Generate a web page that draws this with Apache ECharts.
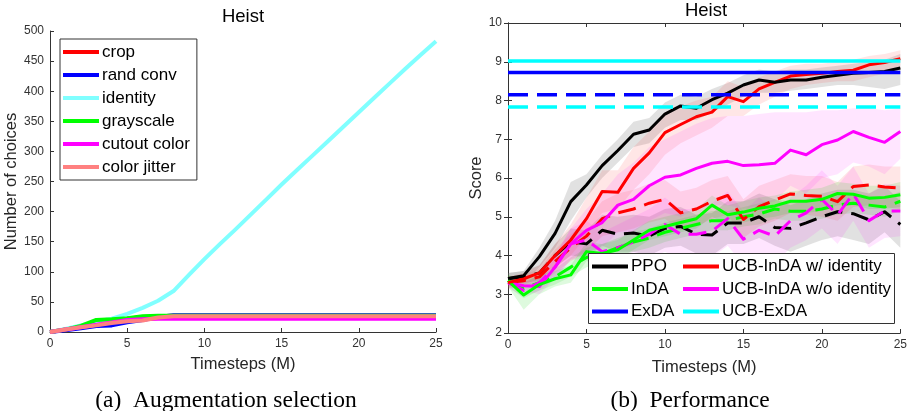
<!DOCTYPE html>
<html>
<head>
<meta charset="utf-8">
<script src="https://cdn.jsdelivr.net/npm/echarts@6/dist/echarts.min.js"></script>
<style>html,body{margin:0;padding:0;background:#fff}#c{width:910px;height:411px}</style>
</head>
<body>
<div id="c"></div>
<script>
// ---------- data ----------
const tSteps = [0,1,2,3,4,5,6,7,8,9,10,11,12,13,14,15,16,17,18,19,20,21,22,23,24,25];
const xTicks = [0,5,10,15,20,25];

// (a) Augmentation selection: number of choices
const augNames = ['crop','rand conv','identity','grayscale','cutout color','color jitter'];
const cropN      = [0,4,8,12,17,22,25,26,27,27,27,27,27,27,27,27,27,27,27,27,27,27,27,27,27,27];
const randConvN  = [0,3,6,10,11,16,20,25,28,28,28,28,28,28,28,28,28,28,28,28,28,28,28,28,28,28];
const identityN  = [0,5,11,17,22,30,40,52,68,95,121,146,170,195,220,245,269,293,317,341,365,389,413,437,460,483];
const grayscaleN = [0,4,10,20,21,23,26,27,27,27,27,27,27,27,27,27,27,27,27,27,27,27,27,27,27,27];
const cutoutN    = [0,4,8,12,16,20,21,22,22,22,22,22,22,22,22,22,22,22,22,22,22,22,22,22,22,22];
const jitterN    = [0,4,8,11,15,18,19,24,26,26,26,26,26,26,26,26,26,26,26,26,26,26,26,26,26,26];

// (b) Performance: scores (solid)
const ppo      = [3.41,3.48,3.97,4.57,5.39,5.82,6.32,6.71,7.13,7.24,7.65,7.86,7.80,8.02,8.19,8.40,8.53,8.47,8.53,8.53,8.60,8.65,8.70,8.72,8.75,8.84];
const ppoLo    = [3.30,3.30,3.70,4.20,4.90,5.50,6.00,6.40,6.80,6.90,7.30,7.50,7.50,7.70,7.90,8.10,8.20,8.20,8.25,8.30,8.35,8.40,8.40,8.35,8.30,8.40];
const ppoHi    = [3.55,3.60,4.20,4.90,5.90,6.10,6.60,7.00,7.45,7.55,7.95,8.15,8.10,8.30,8.45,8.65,8.80,8.75,8.80,8.80,8.85,8.90,8.95,9.00,9.05,9.20];
const inda     = [3.35,2.98,3.25,3.40,3.50,4.10,4.05,4.15,4.40,4.65,4.75,4.85,4.95,5.30,5.05,5.12,5.22,5.28,5.40,5.40,5.45,5.60,5.58,5.48,5.50,5.57];
const indaLo   = [3.20,2.60,3.00,3.20,3.30,3.85,3.80,3.90,4.15,4.40,4.50,4.60,4.70,5.00,4.80,4.85,4.95,5.00,5.10,5.10,5.15,5.30,5.30,5.20,5.20,5.25];
const indaHi   = [3.50,3.30,3.50,3.60,3.75,4.35,4.30,4.40,4.65,4.90,5.00,5.10,5.20,5.55,5.30,5.40,5.50,5.55,5.65,5.70,5.75,5.90,5.85,5.80,5.80,5.90];
const ucbId    = [3.30,3.40,3.55,4.00,4.40,4.95,5.65,5.63,6.25,6.65,7.17,7.38,7.58,7.70,8.10,7.97,8.30,8.47,8.63,8.67,8.70,8.75,8.78,8.92,8.98,9.08];
const ucbIdLo  = [3.20,3.25,3.40,3.70,4.00,4.50,5.10,5.20,5.70,6.10,6.60,6.90,7.10,7.30,7.60,7.60,7.90,8.10,8.30,8.40,8.45,8.50,8.50,8.60,8.70,8.80];
const ucbIdHi  = [3.45,3.55,3.75,4.30,4.80,5.50,6.20,6.20,6.80,7.20,7.70,7.85,8.00,8.10,8.50,8.35,8.60,8.75,8.90,8.95,8.95,9.00,9.05,9.15,9.20,9.30];
const ucbNoId  = [3.30,3.22,3.20,3.70,4.30,4.65,4.85,5.30,5.45,5.80,6.02,6.08,6.25,6.38,6.43,6.32,6.34,6.38,6.72,6.60,6.86,6.98,7.20,7.05,6.92,7.20];
const ucbNoIdLo= [3.20,3.10,3.00,3.40,3.90,4.10,4.20,4.60,4.60,4.90,5.10,5.00,5.20,5.30,5.30,5.20,5.30,5.40,5.80,5.60,6.00,6.10,6.40,6.30,6.10,6.50];
const ucbNoIdHi= [3.40,3.35,3.40,4.00,4.70,5.20,5.60,6.10,6.40,6.80,7.00,7.20,7.40,7.55,7.60,7.60,7.65,7.70,7.70,7.70,7.75,7.75,7.80,7.80,7.75,7.80];

// (b) Performance: scores (dashed)
const ppoD      = [3.40,3.45,3.55,4.00,4.35,4.30,4.65,4.55,4.58,4.50,4.70,4.75,4.55,4.53,4.84,4.84,5.00,4.72,4.70,4.84,5.00,5.13,5.08,4.92,5.13,4.80];
const ppoDLo    = [3.25,3.30,3.35,3.70,4.00,3.95,4.25,4.10,4.10,4.00,4.20,4.25,4.05,4.00,4.30,4.30,4.45,4.25,4.10,4.25,4.40,4.50,4.40,4.30,4.60,4.20];
const ppoDHi    = [3.55,3.60,3.75,4.30,4.70,4.65,5.05,5.00,5.05,5.00,5.20,5.25,5.05,5.10,5.40,5.40,5.60,5.45,5.30,5.45,5.60,5.70,5.70,5.60,5.80,5.40];
const indaD     = [3.35,3.15,3.30,3.45,3.70,3.95,4.05,4.20,4.35,4.45,4.60,4.70,4.80,4.90,4.90,5.00,5.07,5.20,5.14,5.14,5.20,5.30,5.35,5.30,5.25,5.40];
const indaDLo   = [3.20,2.90,3.10,3.25,3.45,3.70,3.80,3.95,4.10,4.20,4.35,4.45,4.55,4.65,4.65,4.75,4.80,4.95,4.90,4.90,4.95,5.05,5.10,5.05,5.00,5.15];
const indaDHi   = [3.50,3.40,3.50,3.65,3.95,4.20,4.30,4.45,4.60,4.70,4.85,4.95,5.05,5.15,5.15,5.25,5.35,5.45,5.40,5.40,5.45,5.55,5.60,5.55,5.50,5.65];
const ucbIdD    = [3.30,3.35,3.45,3.85,4.20,4.50,4.95,5.10,5.20,5.35,5.45,5.10,5.20,5.40,5.55,4.93,5.26,5.43,5.59,5.55,5.53,5.39,5.78,5.82,5.77,5.74];
const ucbIdDLo  = [3.15,3.20,3.25,3.55,3.85,4.10,4.50,4.60,4.70,4.85,4.95,4.65,4.75,4.95,5.05,4.45,4.75,4.90,5.10,5.05,5.00,4.90,5.25,5.30,5.25,5.20];
const ucbIdDHi  = [3.45,3.50,3.65,4.15,4.55,4.90,5.40,5.60,5.70,5.85,5.95,5.65,5.75,5.95,6.05,5.45,5.80,5.95,6.10,6.05,6.05,5.90,6.30,6.35,6.30,6.30];
const ucbNoIdD  = [3.30,3.10,3.30,3.70,4.30,4.40,4.10,4.20,4.35,4.55,4.80,4.55,4.55,4.63,4.95,4.42,4.65,4.50,4.90,5.10,5.45,5.05,5.60,4.90,5.15,5.15];
const ucbNoIdDLo= [3.15,2.95,3.10,3.40,3.90,3.90,3.60,3.60,3.70,3.90,4.10,3.90,3.90,3.95,4.25,3.75,4.00,3.80,4.20,4.40,4.70,4.30,4.90,4.20,4.45,4.50];
const ucbNoIdDHi= [3.45,3.30,3.50,4.00,4.70,4.90,4.60,4.80,5.00,5.20,5.50,5.20,5.20,5.35,5.65,5.15,5.50,5.20,5.50,5.80,6.20,5.80,6.30,5.60,5.85,5.80];

// horizontal reference levels
const exdaScore = 8.72, ucbExdaScore = 9.02;
const exdaScoreD = 8.15, ucbExdaScoreD = 7.83;

// ---------- chart ----------
const FONT = '"Liberation Sans", Arial, sans-serif';
const SERIF = '"Liberation Serif", "Times New Roman", serif';
const AXC = '#333';
const chart = echarts.init(document.getElementById('c'), null, {renderer: 'canvas'});
const pairs = ys => tSteps.map((t, i) => [t, ys[i]]);

function lineS(name, ys, color, width, dashed, xi, yi, z) {
  return {
    type: 'line', name: name, data: pairs(ys), xAxisIndex: xi, yAxisIndex: yi,
    showSymbol: false, symbol: 'none', smooth: false, animation: false, z: z || 3,
    itemStyle: {color: color},
    lineStyle: {color: color, width: width, type: dashed ? [18, 9] : 'solid', cap: 'butt', join: 'round'}
  };
}
function hline(name, v, color, dashed) {
  return {
    type: 'line', name: name, data: [[tSteps[0], v], [tSteps[tSteps.length - 1], v]],
    xAxisIndex: 1, yAxisIndex: 1, showSymbol: false, symbol: 'none', animation: false, z: 4,
    itemStyle: {color: color},
    lineStyle: {color: color, width: 3.5, type: dashed ? [20, 9] : 'solid', cap: 'butt'}
  };
}
function band(key, lo, hi, color) {
  return {
    type: 'custom', name: 'band_' + key, xAxisIndex: 1, yAxisIndex: 1, silent: true, animation: false, z: 1,
    data: tSteps.map((t, i) => [t, lo[i], hi[i]]),
    encode: {x: 0, y: [1, 2]},
    renderItem: function (params, api) {
      if (params.dataIndex !== 0) return null;
      const top = [], bot = [];
      for (let i = 0; i < tSteps.length; i++) {
        top.push(api.coord([tSteps[i], hi[i]]));
        bot.push(api.coord([tSteps[i], lo[i]]));
      }
      return {type: 'polygon', shape: {points: top.concat(bot.reverse())}, style: {fill: color}};
    }
  };
}

const GRAY = 'rgba(120,120,120,0.22)', PINKR = 'rgba(255,60,60,0.13)', PINKM = 'rgba(255,0,255,0.10)', GREENB = 'rgba(0,220,0,0.13)';

const series = [
  // left panel
  lineS('crop', cropN, '#ff0000', 4, false, 0, 0),
  lineS('rand conv', randConvN, '#0000ff', 4, false, 0, 0),
  lineS('identity', identityN, '#80ffff', 4, false, 0, 0),
  lineS('grayscale', grayscaleN, '#00ff00', 4, false, 0, 0),
  lineS('cutout color', cutoutN, '#ff00ff', 4, false, 0, 0),
  lineS('color jitter', jitterN, '#ff8080', 4, false, 0, 0),
  // right panel bands
  band('ppoD', ppoDLo, ppoDHi, GRAY),
  band('indaD', indaDLo, indaDHi, GREENB),
  band('ucbIdD', ucbIdDLo, ucbIdDHi, PINKR),
  band('ucbNoIdD', ucbNoIdDLo, ucbNoIdDHi, PINKM),
  band('ppo', ppoLo, ppoHi, GRAY),
  band('inda', indaLo, indaHi, GREENB),
  band('ucbId', ucbIdLo, ucbIdHi, PINKR),
  band('ucbNoId', ucbNoIdLo, ucbNoIdHi, PINKM),
  // dashed curves
  lineS('PPO (dashed)', ppoD, '#000000', 3, true, 1, 1),
  lineS('InDA (dashed)', indaD, '#00ff00', 3, true, 1, 1),
  lineS('UCB-InDA w/ identity (dashed)', ucbIdD, '#ff0000', 3, true, 1, 1),
  lineS('UCB-InDA w/o identity (dashed)', ucbNoIdD, '#ff00ff', 3, true, 1, 1),
  // solid curves
  lineS('UCB-InDA w/o identity', ucbNoId, '#ff00ff', 3, false, 1, 1),
  lineS('InDA', inda, '#00ff00', 3, false, 1, 1),
  lineS('UCB-InDA w/ identity', ucbId, '#ff0000', 3, false, 1, 1),
  lineS('PPO', ppo, '#000000', 3, false, 1, 1),
  // horizontal levels
  hline('ExDA (dashed)', exdaScoreD, '#0000ff', true),
  hline('UCB-ExDA (dashed)', ucbExdaScoreD, '#00ffff', true),
  hline('ExDA', exdaScore, '#0000ff', false),
  hline('UCB-ExDA', ucbExdaScore, '#00ffff', false)
];

const axisCommon = {
  axisLine: {show: true, lineStyle: {color: AXC, width: 1}},
  axisTick: {show: true, inside: true, length: 4, lineStyle: {color: AXC}},
  axisLabel: {color: '#333', fontFamily: FONT, fontSize: 12, margin: 6},
  splitLine: {show: false},
  nameTextStyle: {color: '#262626', fontFamily: FONT, fontSize: 16.5}
};

const legendCommon = {
  orient: 'vertical', icon: 'rect', itemWidth: 36, itemHeight: 4,
  textStyle: {color: '#000', fontFamily: FONT, fontSize: 17, lineHeight: 19, padding: [0, 0, 0, -2]},
  selectedMode: false, z: 10
};

chart.setOption({
  animation: false,
  backgroundColor: '#fff',
  title: [
    {text: 'Heist', left: 243, top: 7, padding: 0, textAlign: 'center', textStyle: {fontFamily: FONT, fontSize: 18.5, fontWeight: 'normal', color: '#000'}},
    {text: 'Heist', left: 706, top: 1.5, padding: 0, textAlign: 'center', textStyle: {fontFamily: FONT, fontSize: 18.5, fontWeight: 'normal', color: '#000'}},
    {text: '(a)  Augmentation selection', left: 221, top: 384, textAlign: 'center', textStyle: {fontFamily: SERIF, fontSize: 23.5, fontWeight: 'normal', color: '#000'}},
    {text: '(b)  Performance', left: 685, top: 384, textAlign: 'center', textStyle: {fontFamily: SERIF, fontSize: 23.5, fontWeight: 'normal', color: '#000'}}
  ],
  grid: [
    {left: 50, right: 474, top: 31, bottom: 79, containLabel: false},
    {left: 508, right: 8, top: 23, bottom: 78, containLabel: false}
  ],
  xAxis: [
    Object.assign({}, axisCommon, {type: 'value', gridIndex: 0, min: xTicks[0], max: xTicks[xTicks.length - 1], interval: 5,
      name: 'Timesteps (M)', nameLocation: 'middle', nameGap: 24}),
    Object.assign({}, axisCommon, {type: 'value', gridIndex: 1, min: xTicks[0], max: xTicks[xTicks.length - 1], interval: 5,
      name: 'Timesteps (M)', nameLocation: 'middle', nameGap: 26}),
    Object.assign({}, axisCommon, {type: 'value', gridIndex: 1, position: 'top', min: xTicks[0], max: xTicks[xTicks.length - 1], interval: 5,
      axisLabel: {show: false}})
  ],
  yAxis: [
    Object.assign({}, axisCommon, {type: 'value', gridIndex: 0, min: 0, max: 500, interval: 50,
      name: 'Number of choices', nameLocation: 'middle', nameGap: 27}),
    Object.assign({}, axisCommon, {type: 'value', gridIndex: 1, min: 2, max: 10, interval: 1,
      name: 'Score', nameLocation: 'middle', nameGap: 23}),
    Object.assign({}, axisCommon, {type: 'value', gridIndex: 1, position: 'right', min: 2, max: 10, interval: 1,
      axisLabel: {show: false}})
  ],
  legend: [
    Object.assign({}, legendCommon, {data: augNames, left: 60, top: 39, itemGap: 4,
      padding: [3.5, 7, 3.5, 3], borderColor: '#333', borderWidth: 1, backgroundColor: '#fff'}),
    Object.assign({}, legendCommon, {data: ['PPO', 'InDA', 'ExDA'], left: 592, top: 257, padding: 0, itemGap: 3.5}),
    Object.assign({}, legendCommon, {data: ['UCB-InDA w/ identity', 'UCB-InDA w/o identity', 'UCB-ExDA'], left: 683, top: 257, padding: 0, itemGap: 3.5})
  ],
  graphic: [
    {type: 'rect', shape: {x: 588.5, y: 253.5, width: 306, height: 70}, style: {fill: '#fff', stroke: '#333', lineWidth: 1}, z: 8}
  ],
  series: series
});
</script>
</body>
</html>
